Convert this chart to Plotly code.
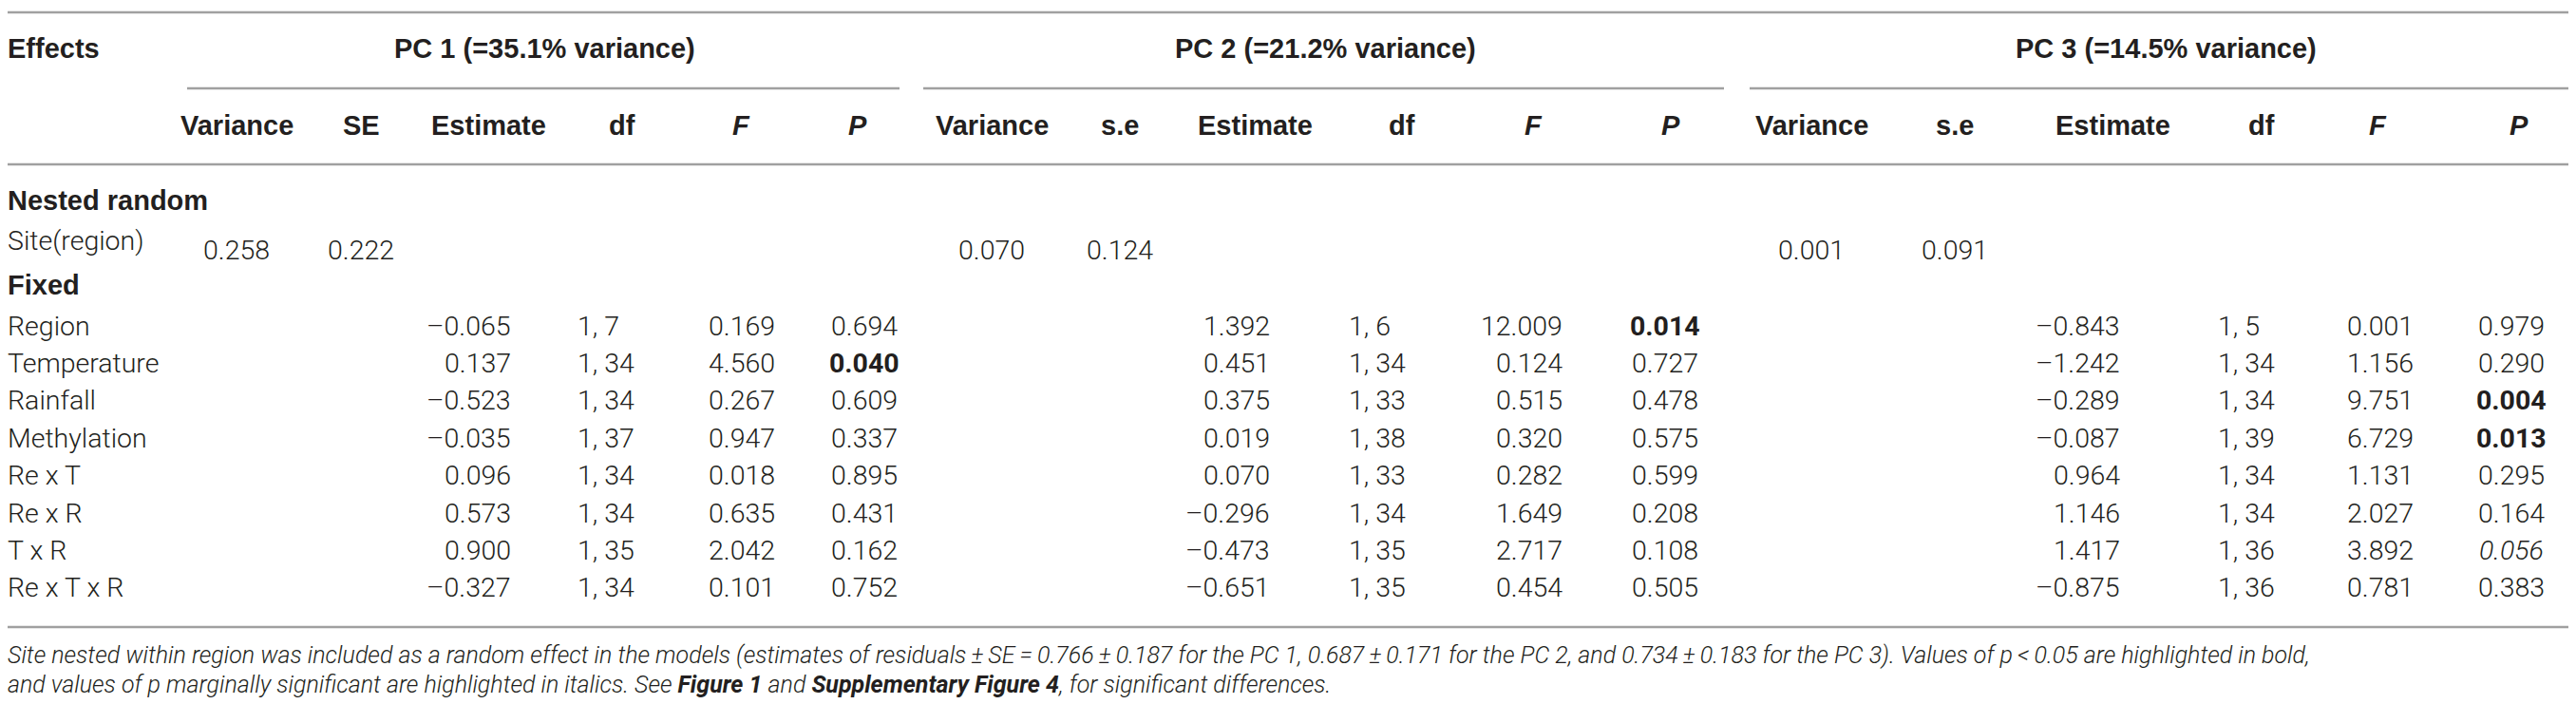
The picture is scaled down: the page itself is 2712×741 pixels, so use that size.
import plotly.graph_objects as go

# table content
effects = ["Region", "Temperature", "Rainfall", "Methylation",
           "Re x T", "Re x R", "T x R", "Re x T x R"]
pc_titles = ["PC 1 (=35.1% variance)", "PC 2 (=21.2% variance)", "PC 3 (=14.5% variance)"]
se_labels = ["SE", "s.e", "s.e"]

site_var = [0.258, 0.070, 0.001]
site_se = [0.222, 0.124, 0.091]

pc1_est = [-0.065, 0.137, -0.523, -0.035, 0.096, 0.573, 0.900, -0.327]
pc1_df = ["1, 7", "1, 34", "1, 34", "1, 37", "1, 34", "1, 34", "1, 35", "1, 34"]
pc1_f = [0.169, 4.560, 0.267, 0.947, 0.018, 0.635, 2.042, 0.101]
pc1_p = [0.694, 0.040, 0.609, 0.337, 0.895, 0.431, 0.162, 0.752]

pc2_est = [1.392, 0.451, 0.375, 0.019, 0.070, -0.296, -0.473, -0.651]
pc2_df = ["1, 6", "1, 34", "1, 33", "1, 38", "1, 33", "1, 34", "1, 35", "1, 35"]
pc2_f = [12.009, 0.124, 0.515, 0.320, 0.282, 1.649, 2.717, 0.454]
pc2_p = [0.014, 0.727, 0.478, 0.575, 0.599, 0.208, 0.108, 0.505]

pc3_est = [-0.843, -1.242, -0.289, -0.087, 0.964, 1.146, 1.417, -0.875]
pc3_df = ["1, 5", "1, 34", "1, 34", "1, 39", "1, 34", "1, 34", "1, 36", "1, 36"]
pc3_f = [0.001, 1.156, 9.751, 6.729, 1.131, 2.027, 3.892, 0.781]
pc3_p = [0.979, 0.290, 0.004, 0.013, 0.295, 0.164, 0.056, 0.383]

footnote_1 = ("Site nested within region was included as a random effect in the models "
              "(estimates of residuals\u2009\u00b1\u2009SE\u2009=\u20090.766\u2009\u00b1\u20090.187 for the PC 1, "
              "0.687\u2009\u00b1\u20090.171 for the PC 2, and 0.734\u2009\u00b1\u20090.183 for the PC 3). "
              "Values of p\u2009<\u20090.05 are highlighted in bold,")
footnote_2 = ("and values of p marginally significant are highlighted in italics. See "
              "<b>Figure 1</b> and <b>Supplementary Figure 4</b>, for significant differences.")

# page layout (pixels)
W, H = 2712, 741
BODY_FONT = "Roboto"
HEAD_FONT = "Liberation Sans"
INK = "#231f20"
RULE = "#a0a0a0"
BODY_SIZE = 28.5
HEAD_SIZE = 29

pcs = [
    dict(est=pc1_est, df=pc1_df, f=pc1_f, p=pc1_p),
    dict(est=pc2_est, df=pc2_df, f=pc2_f, p=pc2_p),
    dict(est=pc3_est, df=pc3_df, f=pc3_f, p=pc3_p),
]
title_x = [565, 1387, 2272]
sub_x = [[241, 372, 506, 647, 772, 895],
         [1036, 1171, 1313, 1468, 1606, 1751],
         [1899, 2050, 2216, 2373, 2495, 2644]]
est_right = [530, 1329, 2224]
df_left = [600, 1412, 2327]
f_right = [808, 1637, 2533]
p_center = [902, 1745, 2636]
span_x = [(189, 939), (964, 1807), (1834, 2712)]

dy = -2  # nudge text boxes so the glyphs sit where they do in print
y_rule_top, y_title, y_span, y_sub, y_rule_head = 5, 45, 85, 126, 165
y_nested, y_site_lab, y_site_val, y_fixed = 205, 247, 257, 294
y_rows = [337 + 39.4 * i for i in range(len(effects))]
y_rule_bottom, y_foot = 652, [683, 714]


def num(v):
    s = f"{abs(v):.3f}"
    return ("\u2013" + s) if v < 0 else s


def pval(v):
    s = f"{v:.3f}"
    if v < 0.05:
        return f"<b>{s}</b>"
    if v < 0.1:
        return f"<i>{s}</i>"
    return s


ann = []


def txt(x, y, s, anchor="left", head=False, size=None):
    family = HEAD_FONT if head else BODY_FONT
    if size is None:
        size = HEAD_SIZE if head else BODY_SIZE
    ann.append(dict(x=x, y=y + dy, xref="x", yref="y", text=s, showarrow=False,
                    xanchor=anchor, yanchor="middle", borderpad=0, borderwidth=0,
                    font=dict(family=family, size=size, color=INK,
                              weight=700 if head else 300)))


# header rows
txt(0, y_title, "Effects", head=True)
for i, t in enumerate(pc_titles):
    txt(title_x[i], y_title, t, "center", head=True)
    heads = ["Variance", se_labels[i], "Estimate", "df", "<i>F</i>", "<i>P</i>"]
    for hx, h in zip(sub_x[i], heads):
        txt(hx, y_sub, h, "center", head=True)

# random part
txt(0, y_nested, "Nested random", head=True)
txt(0, y_site_lab, "Site(region)")
for i in range(3):
    txt(sub_x[i][0], y_site_val, f"{site_var[i]:.3f}", "center")
    txt(sub_x[i][1], y_site_val, f"{site_se[i]:.3f}", "center")

# fixed part
txt(0, y_fixed, "Fixed", head=True)
for r, name in enumerate(effects):
    y = y_rows[r]
    txt(0, y, name)
    for i, pc in enumerate(pcs):
        txt(est_right[i], y, num(pc["est"][r]), "right")
        txt(df_left[i], y, pc["df"][r], "left")
        txt(f_right[i], y, num(pc["f"][r]), "right")
        txt(p_center[i], y, pval(pc["p"][r]), "center")

for k, line in enumerate([footnote_1, footnote_2]):
    txt(0, y_foot[k], f"<i>{line}</i>", size=25)

shapes = []


def rule(x0, x1, y):
    shapes.append(dict(type="line", xref="x", yref="y", x0=x0, x1=x1, y0=y, y1=y,
                       line=dict(color=RULE, width=2.5)))


rule(0, W, y_rule_top)
for a, b in span_x:
    rule(a, b, y_span)
rule(0, W, y_rule_head)
rule(0, W, y_rule_bottom)

fig = go.Figure()
fig.update_layout(
    width=W, height=H,
    margin=dict(l=0, r=0, t=0, b=0),
    paper_bgcolor="white", plot_bgcolor="white",
    xaxis=dict(range=[0, W], visible=False, fixedrange=True),
    yaxis=dict(range=[H, 0], visible=False, fixedrange=True),
    annotations=ann, shapes=shapes,
    showlegend=False,
)

fig.write_html("out.html", config={"displayModeBar": False})
